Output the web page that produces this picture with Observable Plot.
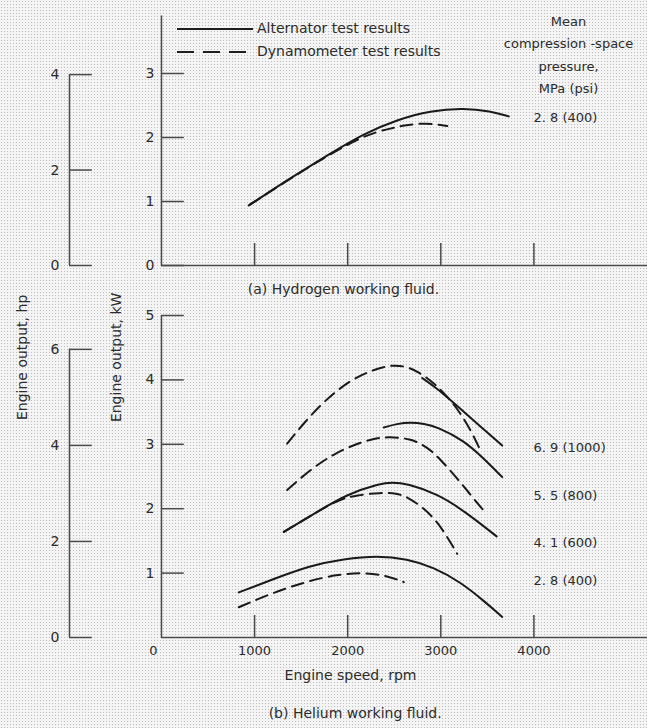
<!DOCTYPE html>
<html>
<head>
<meta charset="utf-8">
<script src="https://cdn.jsdelivr.net/npm/d3@7"></script>
<script src="https://cdn.jsdelivr.net/npm/@observablehq/plot@0.6"></script>
<style>
  html, body { margin: 0; padding: 0; }
  body {
    width: 647px; height: 728px; overflow: hidden;
    background-color: #f4f4f4;
    background-image: radial-gradient(circle, #bdbdbd 0.75px, transparent 1px);
    background-size: 3px 3px;
    font-family: "DejaVu Sans", sans-serif;
    color: #2c2c2c;
  }
  #wrap { position: relative; width: 647px; height: 728px; }
  #wrap svg { display: block; }
  #legend { position: absolute; left: 177px; top: 17px; font-size: 14px; line-height: 23px; }
  #legend .row { display: flex; align-items: center; height: 23px; }
  #legend svg { margin-right: 4px; }
</style>
</head>
<body>
<div id="wrap">
  <div id="panelA"></div>
  <div id="panelB"></div>
  <div id="legend">
    <div class="row"><svg width="76" height="6"><line x1="0" y1="3" x2="76" y2="3" stroke="#1e1e1e" stroke-width="2"/></svg><span>Alternator test results</span></div>
    <div class="row"><svg width="76" height="6"><line x1="0" y1="3" x2="76" y2="3" stroke="#1e1e1e" stroke-width="2" stroke-dasharray="17,9"/></svg><span>Dynamometer test results</span></div>
  </div>
</div>
<script>
// ---------- data ----------
const rpmTicks = [1000, 2000, 3000, 4000];
const rpmLabels = [0, 1000, 2000, 3000, 4000];
const kwTicksA = [0, 1, 2, 3];
const hpTicksA = [0, 2, 4];
const kwTicksB = [1, 2, 3, 4, 5];
const hpTicksB = [0, 2, 4, 6];

// (a) Hydrogen working fluid, 2.8 MPa (400 psi): [rpm, kW]
const h2Alt28 = [[938,0.94],[1200,1.19],[1457,1.43],[1815,1.75],[2173,2.06],[2532,2.28],[2889,2.42],[3247,2.46],[3534,2.41],[3730,2.33]];
const h2Dyn28 = [[950,0.95],[1450,1.42],[1800,1.73],[2173,2.03],[2424,2.13],[2600,2.19],[2836,2.23],[3069,2.18]];

// (b) Helium working fluid: [rpm, kW]
const heAlt69 = [[2800,4.03],[2950,3.88],[3150,3.63],[3400,3.31],[3660,2.98]];
const heDyn69 = [[1350,3.01],[1529,3.33],[1708,3.61],[1887,3.84],[2066,4.02],[2245,4.14],[2450,4.23],[2600,4.22],[2746,4.14],[2961,3.92],[3180,3.56],[3330,3.2],[3440,2.86]];
const heAlt55 = [[2387,3.26],[2530,3.32],[2675,3.34],[2820,3.32],[2961,3.27],[3247,3.06],[3460,2.78],[3660,2.49]];
const heDyn55 = [[1350,2.29],[1600,2.61],[1850,2.85],[2066,2.99],[2250,3.08],[2424,3.12],[2675,3.09],[2853,2.96],[3000,2.76],[3176,2.47],[3300,2.25],[3460,1.97]];
const heAlt41 = [[1314,1.64],[1636,1.92],[1995,2.23],[2352,2.39],[2470,2.41],[2639,2.39],[2961,2.23],[3247,1.97],[3600,1.57]];
const heDyn41 = [[1314,1.64],[1636,1.92],[1900,2.14],[2100,2.21],[2350,2.25],[2530,2.24],[2640,2.18],[2800,2.03],[2950,1.82],[3070,1.56],[3176,1.30]];
const heAlt28 = [[830,0.70],[1171,0.89],[1600,1.12],[1958,1.22],[2317,1.27],[2639,1.22],[2925,1.09],[3212,0.86],[3462,0.57],[3660,0.32]];
const heDyn28 = [[830,0.47],[1171,0.68],[1529,0.86],[1887,0.98],[2173,1.01],[2424,0.96],[2603,0.86]];

const labelsA = ["2. 8 (400)"];
const labelsB = ["6. 9 (1000)", "5. 5 (800)", "4. 1 (600)", "2. 8 (400)"];
const pressureHeader = "Mean\ncompression -space\npressure,\nMPa (psi)";
const captionA = "(a) Hydrogen working fluid.";
const captionB = "(b) Helium working fluid.";
const xTitle = "Engine speed, rpm";
const yTitleHp = "Engine output, hp";
const yTitleKw = "Engine output, kW";

// ---------- layout ----------
const KW_PER_HP = 0.7457;
const X_DOMAIN = [-1729, 5220];      // rpm mapped across the full 647px width
const HP_AXIS = -988;                // hp axis placed left of the kW axis (rpm units)
const TICK_X = 245;                  // horizontal tick length (rpm units)
const LABEL_X = 3996;                // pressure labels start
const HEADER_X = 4372;
const labelYA = [2.31];
const labelYB = [2.95, 2.2, 1.475, 0.885];

const axisColor = "#4a4a4a";
const lineColor = "#1a1a1a";
const textColor = "#2c2c2c";
const dash = "12,7";

function axisMarks(kwTicks, kwTop, hpTicks, hpTop, tickYLen) {
  return [
    Plot.ruleX([0], {y1: 0, y2: kwTop, stroke: axisColor, strokeWidth: 1.5}),
    Plot.ruleY(kwTicks, {y: d => d, x1: 0, x2: TICK_X, stroke: axisColor, strokeWidth: 1.5}),
    Plot.text(kwTicks, {x: 0, y: d => d, text: d => String(d), dx: -7, textAnchor: "end", fontSize: 14, fill: textColor}),
    Plot.ruleX([HP_AXIS], {y1: 0, y2: hpTop * KW_PER_HP, stroke: axisColor, strokeWidth: 1.5}),
    Plot.ruleY(hpTicks, {y: d => d * KW_PER_HP, x1: HP_AXIS, x2: HP_AXIS + TICK_X, stroke: axisColor, strokeWidth: 1.5}),
    Plot.text(hpTicks, {x: HP_AXIS, y: d => d * KW_PER_HP, text: d => String(d), dx: -10, textAnchor: "end", fontSize: 14, fill: textColor}),
    Plot.ruleY([0], {x1: 0, x2: X_DOMAIN[1], stroke: axisColor, strokeWidth: 1.5}),
    Plot.ruleX(rpmTicks, {x: d => d, y1: 0, y2: tickYLen, stroke: axisColor, strokeWidth: 1.5})
  ];
}
function curve(data, dashed) {
  return Plot.line(data, {x: d => d[0], y: d => d[1], curve: "basis", stroke: lineColor, strokeWidth: 2,
    strokeDasharray: dashed ? dash : null});
}

const commonStyle = {background: "transparent", overflow: "visible", fontFamily: "DejaVu Sans, sans-serif", fontSize: "14px", color: textColor};

const plotA = Plot.plot({
  width: 647, height: 300,
  marginTop: 0, marginBottom: 35, marginLeft: 0, marginRight: 0,
  x: {domain: X_DOMAIN, axis: null},
  y: {domain: [0, 265 / 64], axis: null},
  style: commonStyle,
  marks: [
    ...axisMarks(kwTicksA, 3.9, hpTicksA, 4, 22 / 64),
    curve(h2Alt28, false),
    curve(h2Dyn28, true),
    Plot.text(labelsA, {x: LABEL_X, y: (d, i) => labelYA[i], textAnchor: "start", fontSize: 13, fill: textColor}),
    Plot.text([pressureHeader], {x: HEADER_X, y: 3.99, lineAnchor: "top", lineHeight: 1.72, textAnchor: "middle", fontSize: 13, fill: textColor}),
    Plot.text([captionA], {x: 1955, y: -0.375, textAnchor: "middle", fontSize: 14, fill: textColor})
  ]
});
document.getElementById("panelA").append(plotA);

const plotB = Plot.plot({
  width: 647, height: 428,
  marginTop: 0, marginBottom: 91, marginLeft: 0, marginRight: 0,
  x: {domain: X_DOMAIN, axis: null},
  y: {domain: [0, 337 / 64.4], axis: null},
  style: commonStyle,
  marks: [
    ...axisMarks(kwTicksB, 5, hpTicksB, 6, 22 / 64.4),
    Plot.text(rpmLabels.filter(d => d > 0), {x: d => d, y: 0, text: d => String(d), dy: 13, fontSize: 13, fill: textColor}),
    Plot.text(rpmLabels.filter(d => d === 0), {x: d => d, y: 0, text: d => String(d), dy: 13, dx: -8, fontSize: 13, fill: textColor}),
    curve(heAlt69, false), curve(heDyn69, true),
    curve(heAlt55, false), curve(heDyn55, true),
    curve(heAlt41, false), curve(heDyn41, true),
    curve(heAlt28, false), curve(heDyn28, true),
    Plot.text(labelsB, {x: LABEL_X, y: (d, i) => labelYB[i], textAnchor: "start", fontSize: 13, fill: textColor}),
    Plot.text([xTitle], {x: 2030, y: 0, dy: 38, textAnchor: "middle", fontSize: 14, fill: textColor}),
    Plot.text([captionB], {x: 2080, y: 0, dy: 76, textAnchor: "middle", fontSize: 14, fill: textColor}),
    Plot.text([yTitleHp], {x: -1493, y: 4.35, rotate: -90, textAnchor: "middle", fontSize: 14, fill: textColor}),
    Plot.text([yTitleKw], {x: -483, y: 4.35, rotate: -90, textAnchor: "middle", fontSize: 14, fill: textColor})
  ]
});
document.getElementById("panelB").append(plotB);
</script>
</body>
</html>
